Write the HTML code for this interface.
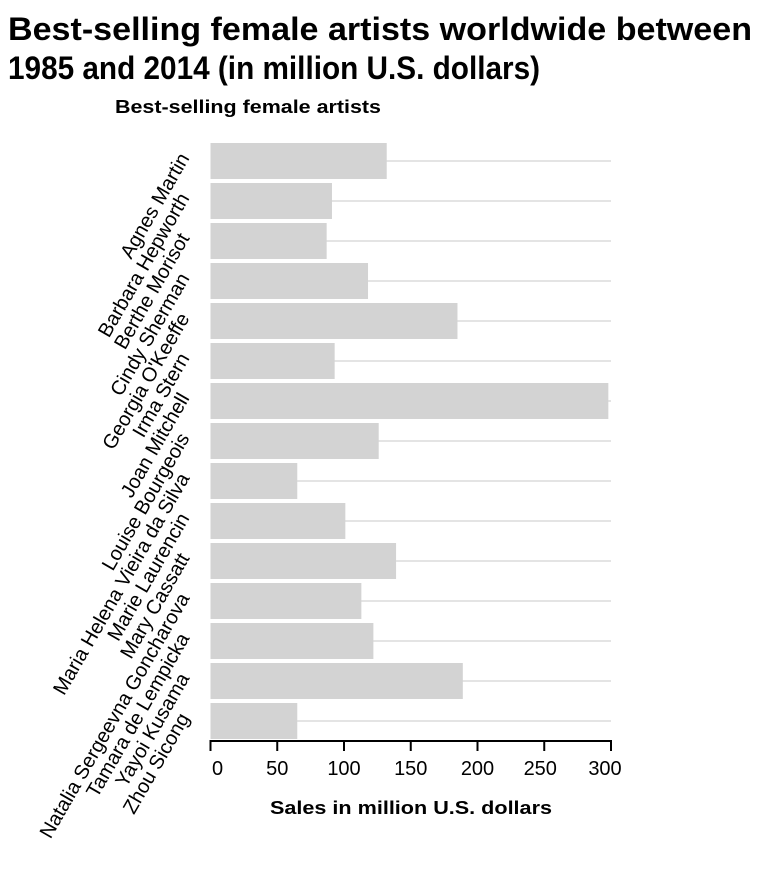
<!DOCTYPE html>
<html><head><meta charset="utf-8"><style>
body{margin:0;background:#fff;width:764px;height:888px;overflow:hidden;font-family:"Liberation Sans",sans-serif}
</style></head><body>
<svg width="764" height="888">
<text x="8" y="40" font-size="32" font-weight="bold" textLength="744" lengthAdjust="spacingAndGlyphs">Best-selling female artists worldwide between</text>
<text x="8" y="79" font-size="32" font-weight="bold" textLength="532" lengthAdjust="spacingAndGlyphs">1985 and 2014 (in million U.S. dollars)</text>
<text x="115" y="113" font-size="18" font-weight="bold" textLength="266" lengthAdjust="spacingAndGlyphs">Best-selling female artists</text>
<text x="270" y="814" font-size="18" font-weight="bold" textLength="282" lengthAdjust="spacingAndGlyphs">Sales in million U.S. dollars</text>
<g id="plot"></g>
</svg>
<script>
const categories=["Agnes Martin","Barbara Hepworth","Berthe Morisot","Cindy Sherman","Georgia O'Keeffe","Irma Stern","Joan Mitchell","Louise Bourgeois","Maria Helena Vieira da Silva","Marie Laurencin","Mary Cassatt","Natalia Sergeevna Goncharova","Tamara de Lempicka","Yayoi Kusama","Zhou Sicong"];
const values=[132,91,87,118,185,93,298,126,65,101,139,113,122,189,65];
const ticks=[0,50,100,150,200,250,300];
const NS="http://www.w3.org/2000/svg";
const g=document.getElementById('plot');
const x0=210.5,x1=611,plotTop=141,rowH=40,axisY=741;
const xs=v=>x0+(x1-x0)*v/300;
function mk(t,a){const e=document.createElementNS(NS,t);for(const k in a)e.setAttribute(k,a[k]);g.appendChild(e);return e;}
categories.forEach((c,i)=>{
 const cy=plotTop+i*rowH+rowH/2;
 const gl=mk('line',{x1:x0,x2:x1,y1:cy,y2:cy,stroke:'#dcdcdc','stroke-width':1.5});
 
 
 const b=mk('rect',{x:x0,y:cy-18,width:xs(values[i])-x0,height:36,fill:'#d3d3d3'});
 
 
 const t=mk('text',{x:0,y:0,'font-size':20,'text-anchor':'end',transform:`translate(190,${cy-3}) rotate(-60)`});
 t.textContent=c;
 
 
});
const ax=mk('line',{x1:x0-1,x2:x1+1,y1:axisY,y2:axisY,stroke:'#000','stroke-width':2});


ticks.forEach(v=>{
 const tk=mk('line',{x1:xs(v),x2:xs(v),y1:axisY,y2:axisY+10,stroke:'#000','stroke-width':2});
 
 
 const t=mk('text',{x:v===0?xs(v)+7:(v===250?xs(v)-4:(v===300?xs(v)-6:xs(v))),y:axisY+34,'font-size':20,'text-anchor':'middle'});
 t.textContent=v;
 
 
});
</script>
</body></html>
